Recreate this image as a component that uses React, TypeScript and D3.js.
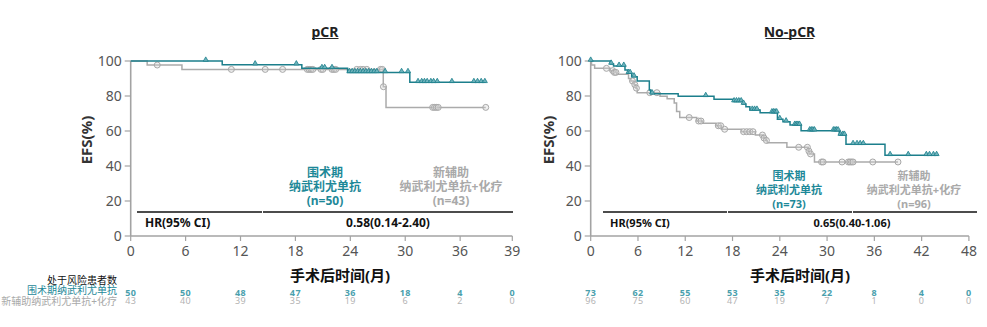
import React from 'react';
import * as d3 from 'd3';

const TEAL = '#1c7f8c';
const TEAL_TXT = '#1d8898';
const TEAL_NUM = '#4a9fad';
const GRAY = '#ababab';
const GRAY_TXT = '#a9a9a9';

// ---------- pCR panel data ----------
const pcrTickPos = [0, 6, 12, 18, 24, 30, 36, 41.7];
const pcrTickLabels = ['0', '6', '12', '18', '24', '30', '36', '39'];
const pcrRiskPeri = [50, 50, 48, 47, 36, 18, 4, 0];
const pcrRiskNeo = [43, 40, 39, 35, 19, 6, 2, 0];
const pcrPeriTimes = [10.0, 18.7, 23.7, 30.5];
const pcrPeriSurv = [97.9, 95.8, 93.5, 87.8];
const pcrPeriEnd = 38.8;
const pcrPeriCens = [8.2, 13.6, 18.1, 20.9, 21.2, 22.0, 23.9, 24.2, 24.5, 24.8, 25.1, 25.4, 25.7, 26.0, 26.3, 26.6, 26.9, 27.8, 29.6, 30.3, 31.4, 31.8, 32.1, 32.4, 32.8, 33.1, 33.5, 35.1, 37.5, 37.9, 38.3, 38.7];
const pcrNeoTimes = [1.8, 5.6, 27.6, 27.9];
const pcrNeoSurv = [97.7, 95.2, 85.3, 73.5];
const pcrNeoEnd = 38.8;
const pcrNeoCens = [2.9, 11.0, 14.7, 16.6, 19.3, 19.5, 19.7, 19.9, 20.8, 21.0, 22.0, 22.2, 22.4, 24.7, 25.1, 25.4, 25.8, 27.3, 27.5, 27.62, 33.0, 33.2, 33.4, 33.6, 38.8];
const pcrHR = '0.58(0.14-2.40)';
const pcrPeriN = '(n=50)';
const pcrNeoN = '(n=43)';

// ---------- No-pCR panel data ----------
const npcTickPos = [0, 6, 12, 18, 24, 30, 36, 42, 48];
const npcTickLabels = ['0', '6', '12', '18', '24', '30', '36', '42', '48'];
const npcRiskPeri = [73, 62, 55, 53, 35, 22, 8, 4, 0];
const npcRiskNeo = [96, 75, 60, 47, 19, 7, 1, 0, 0];
const npcPeriTimes = [2.5, 2.9, 4.35, 4.7, 5.2, 5.9, 7.44, 7.61, 11.1, 15.65, 18.1, 19.3, 19.7, 20.2, 21.5, 23.7, 24.4, 25.3, 26.7, 31.55, 32.4, 37.35];
const npcPeriSurv = [98.3, 97.1, 94.9, 93.0, 91.0, 88.6, 83.4, 81.3, 79.8, 78.1, 76.8, 75.4, 73.9, 72.0, 70.5, 66.7, 65.3, 63.4, 60.2, 57.7, 52.4, 46.1];
const npcPeriEnd = 44.1;
const npcPeriCens = [0, 2.6, 3.6, 4.2, 4.8, 5.0, 5.5, 7.8, 14.6, 18.2, 18.5, 18.8, 19.1, 19.4, 20.5, 20.8, 21.1, 23.0, 23.2, 23.4, 23.6, 24.0, 24.8, 25.9, 26.1, 26.3, 26.5, 27.8, 28.0, 28.2, 28.4, 30.8, 31.0, 31.2, 31.4, 31.7, 32.0, 32.2, 33.3, 33.8, 34.2, 34.6, 38.0, 40.3, 42.6, 43.0, 43.5, 43.9];
const npcNeoTimes = [0.1, 0.5, 2.45, 3.0, 3.3, 4.8, 5.1, 5.5, 5.75, 5.9, 8.8, 9.7, 10.6, 10.9, 11.3, 13.45, 14.2, 15.9, 16.6, 19.15, 20.9, 21.9, 22.2, 22.4, 24.9, 27.6, 27.8, 28.4];
const npcNeoSurv = [97.7, 95.8, 94.5, 93.5, 92.4, 90.0, 88.6, 86.5, 84.5, 81.9, 79.8, 78.5, 76.0, 71.2, 67.7, 65.7, 64.4, 63.0, 61.0, 59.6, 57.7, 56.0, 54.6, 53.3, 50.7, 48.5, 46.9, 42.3];
const npcNeoEnd = 39.0;
const npcNeoCens = [2.0, 2.8, 3.0, 3.2, 5.3, 5.6, 5.8, 7.5, 8.4, 12.5, 13.7, 14.0, 16.2, 16.5, 17.0, 19.4, 19.8, 20.2, 20.6, 21.8, 22.0, 22.3, 26.4, 27.5, 27.7, 27.9, 29.3, 29.5, 31.9, 32.7, 32.9, 33.1, 33.3, 35.8, 39.0];
const npcHR = '0.65(0.40-1.06)';
const npcPeriN = '(n=73)';
const npcNeoN = '(n=96)';

const yTicks = [0, 20, 40, 60, 80, 100];
const periName1 = '围术期';
const periName2 = '纳武利尤单抗';
const neoName1 = '新辅助';
const neoName2 = '纳武利尤单抗+化疗';
const riskHeader = '处于风险患者数';
const riskPeriLabel = '围术期纳武利尤单抗';
const riskNeoLabel = '新辅助纳武利尤单抗+化疗';
const xTitle = '手术后时间(月)';
const yTitle = 'EFS(%)';

const FONT = '"Noto Sans", "Noto Sans CJK SC", sans-serif';

type PanelProps = {
  x0: number; x1: number; dmax: number;
  tickPos: number[]; tickLabels: string[];
  riskPeri: number[]; riskNeo: number[];
  periT: number[]; periS: number[]; periEnd: number; periC: number[];
  neoT: number[]; neoS: number[]; neoEnd: number; neoC: number[];
  hr: string; periN: string; neoN: string;
  yLabelX: number; xTitleX: number; hrSegs: number[]; hrLabelX: number; hrValX: number;
  periLabelX: number; neoLabelX: number; groupFs: number; groupY: number; hrFs: number;
};

function survAt(ts: number[], ss: number[], t: number) {
  let v = 100;
  for (let i = 0; i < ts.length; i++) if (ts[i] <= t) v = ss[i];
  return v;
}

function Panel(p: PanelProps) {
  const x = d3.scaleLinear().domain([0, p.dmax]).range([p.x0, p.x1]);
  const y = d3.scaleLinear().domain([0, 100]).range([236, 61]);
  const line = d3.line<[number, number]>().x(d => x(d[0])).y(d => y(d[1])).curve(d3.curveStepAfter);
  const pts = (ts: number[], ss: number[], end: number): [number, number][] => [
    [0, 100], ...ts.map((t, i) => [t, ss[i]] as [number, number]), [end, ss[ss.length - 1]],
  ];
  const tri = d3.symbol().type(d3.symbolTriangle).size(11)();
  return (
    <g fontFamily={FONT}>
      {/* axes */}
      <line x1={p.x0} x2={p.x0} y1={y(100)} y2={y(0)} stroke="#a3a3a3" strokeWidth={1.6} />
      <line x1={p.x0} x2={p.x1} y1={y(0)} y2={y(0)} stroke="#a3a3a3" strokeWidth={1.6} />
      {yTicks.map(t => (
        <g key={'y' + t}>
          <line x1={p.x0 - 6} x2={p.x0} y1={y(t)} y2={y(t)} stroke="#a3a3a3" strokeWidth={1.2} />
          <text x={p.x0 - 9} y={y(t) + 5} textAnchor="end" fontSize={14} fill="#555">{t}</text>
        </g>
      ))}
      {p.tickPos.map((t, i) => (
        <g key={'x' + i}>
          <line x1={x(t)} x2={x(t)} y1={y(0)} y2={y(0) + 5} stroke="#a3a3a3" strokeWidth={1.2} />
          <text x={x(t)} y={256} textAnchor="middle" fontSize={14} fill="#555">{p.tickLabels[i]}</text>
          <text x={x(t)} y={295.5} textAnchor="middle" fontSize={9} fontWeight="bold" letterSpacing={0.4} fill={TEAL_NUM}>{p.riskPeri[i]}</text>
          <text x={x(t)} y={304} textAnchor="middle" fontSize={9} letterSpacing={0.4} fill="#b3b3b3">{p.riskNeo[i]}</text>
        </g>
      ))}
      {/* y title */}
      <text transform={`translate(${p.yLabelX},140) rotate(-90)`} textAnchor="middle" fontSize={15} fontWeight="bold" fill="#333" dy={5}>{yTitle}</text>
      {/* x title */}
      <text x={p.xTitleX} y={281} textAnchor="middle" fontSize={15} fontWeight="bold" fill="#111">{xTitle}</text>
      {/* curves */}
      <path d={line(pts(p.neoT, p.neoS, p.neoEnd)) || ''} fill="none" stroke={GRAY} strokeWidth={1.5} />
      {p.neoC.map((t, i) => (
        <circle key={'nc' + i} cx={x(t)} cy={y(survAt(p.neoT, p.neoS, t))} r={3} fill="rgba(215,215,215,0.35)" stroke="#a8a8a8" strokeWidth={1} />
      ))}
      <path d={line(pts(p.periT, p.periS, p.periEnd)) || ''} fill="none" stroke={TEAL} strokeWidth={1.5} />
      {p.periC.map((t, i) => (
        <path key={'pc' + i} d={tri || ''} transform={`translate(${x(t)},${y(survAt(p.periT, p.periS, t)) - 1.2})`} fill="#6fb3bc" stroke={TEAL} strokeWidth={0.8} />
      ))}
      {/* group labels */}
      <g textAnchor="middle" fontSize={p.groupFs} fontWeight="bold">
        <text x={p.periLabelX} y={p.groupY} fill={TEAL_TXT}>{periName1}</text>
        <text x={p.periLabelX} y={p.groupY + 14} fill={TEAL_TXT}>{periName2}</text>
        <text x={p.periLabelX} y={p.groupY + 28} fill={TEAL_TXT}>{p.periN}</text>
        <text x={p.neoLabelX} y={p.groupY} fill={GRAY_TXT}>{neoName1}</text>
        <text x={p.neoLabelX} y={p.groupY + 14} fill={GRAY_TXT}>{neoName2}</text>
        <text x={p.neoLabelX} y={p.groupY + 28} fill={GRAY_TXT}>{p.neoN}</text>
      </g>
      {/* HR table */}
      {p.hrSegs.slice(0, -1).map((s, i) => (
        <line key={'hr' + i} x1={s + (i ? 1 : 0)} x2={p.hrSegs[i + 1]} y1={212} y2={212} stroke="#111" strokeWidth={1.3} />
      ))}
      <text x={p.hrLabelX} y={227} fontSize={p.hrFs} fontWeight="bold" fill="#111">HR(95% CI)</text>
      <text x={p.hrValX} y={227} textAnchor="middle" fontSize={p.hrFs} fontWeight="bold" fill="#111">{p.hr}</text>
    </g>
  );
}

export default function App() {
  return (
    <svg width={987} height={327} style={{ position: 'absolute', left: 0, top: 0, background: '#fff' }} fontFamily={FONT}>
      <rect width={987} height={327} fill="#fff" />
      <text x={325} y={37} textAnchor="middle" fontSize={14} fontWeight="bold" fill="#222">pCR</text>
      <line x1={312} x2={338.5} y1={38.5} y2={38.5} stroke="#222" strokeWidth={1} />
      <text x={789.5} y={37} textAnchor="middle" fontSize={14} fontWeight="bold" fill="#222">No-pCR</text>
      <line x1={765.5} x2={813.5} y1={38.5} y2={38.5} stroke="#222" strokeWidth={1} />
      <Panel
        x0={130.7} x1={512.3} dmax={41.7}
        tickPos={pcrTickPos} tickLabels={pcrTickLabels}
        riskPeri={pcrRiskPeri} riskNeo={pcrRiskNeo}
        periT={pcrPeriTimes} periS={pcrPeriSurv} periEnd={pcrPeriEnd} periC={pcrPeriCens}
        neoT={pcrNeoTimes} neoS={pcrNeoSurv} neoEnd={pcrNeoEnd} neoC={pcrNeoCens}
        hr={pcrHR} periN={pcrPeriN} neoN={pcrNeoN}
        yLabelX={87} xTitleX={340} hrSegs={[137, 262, 513]} hrLabelX={145} hrValX={388}
        periLabelX={325} neoLabelX={451} groupFs={12} groupY={177} hrFs={12}
      />
      <Panel
        x0={590.7} x1={968.9} dmax={48}
        tickPos={npcTickPos} tickLabels={npcTickLabels}
        riskPeri={npcRiskPeri} riskNeo={npcRiskNeo}
        periT={npcPeriTimes} periS={npcPeriSurv} periEnd={npcPeriEnd} periC={npcPeriCens}
        neoT={npcNeoTimes} neoS={npcNeoSurv} neoEnd={npcNeoEnd} neoC={npcNeoCens}
        hr={npcHR} periN={npcPeriN} neoN={npcNeoN}
        yLabelX={549} xTitleX={800} hrSegs={[603, 727, 852, 977]} hrLabelX={610} hrValX={852}
        periLabelX={789} neoLabelX={914} groupFs={11} groupY={180} hrFs={11}
      />
      <g fontSize={10} textAnchor="end">
        <text x={117} y={284} fill="#111">{riskHeader}</text>
        <text x={117} y={294} fill={TEAL_TXT}>{riskPeriLabel}</text>
        <text x={117} y={305} fill={GRAY_TXT}>{riskNeoLabel}</text>
      </g>
    </svg>
  );
}
